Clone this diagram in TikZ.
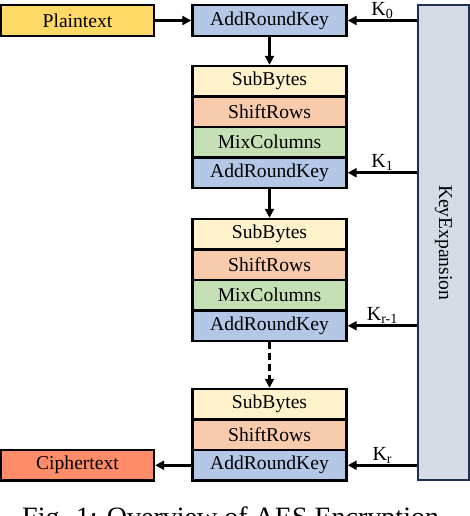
\documentclass[tikz,border=0pt]{standalone}
\usepackage{fontspec}
\setmainfont{Liberation Serif}
\usetikzlibrary{arrows.meta}
\definecolor{cPlain}{HTML}{FFD966}
\definecolor{cCipher}{HTML}{FF8C69}
\definecolor{cSub}{HTML}{FFF2CC}
\definecolor{cShift}{HTML}{F8CBAD}
\definecolor{cMix}{HTML}{C5E0B4}
\definecolor{cArk}{HTML}{B4C7E7}
\definecolor{cKeyFill}{HTML}{D6DCE5}
\definecolor{cKeyLine}{HTML}{1F3057}
\tikzset{
  cell/.style={draw=black, line width=2.4pt, minimum width=154pt, minimum height=30.5pt, inner sep=0pt,
    font=\fontsize{19.6}{21}\selectfont},
  arr/.style={line width=2.6pt, -{Triangle[length=9pt,width=9pt]}},
  klabel/.style={font=\fontsize{20}{22}\selectfont, above, inner sep=0.5pt}
}
\begin{document}
\begin{tikzpicture}[x=1pt,y=-1pt]
\useasboundingbox (0,0) rectangle (470,516);
\clip (0,0) rectangle (470,516);
% top row
\node[cell, fill=cPlain, minimum width=153pt, minimum height=31pt] (plain) at (77.5,20.5) {Plaintext};
\node[cell, fill=cArk, minimum height=31pt] (ark0) at (269.5,20.5) {AddRoundKey};
% block 1
\node[cell, fill=cSub] (sb1) at (269.5,81.25) {SubBytes};
\node[cell, fill=cShift] (sr1) at (269.5,111.75) {ShiftRows};
\node[cell, fill=cMix] (mc1) at (269.5,142.25) {MixColumns};
\node[cell, fill=cArk] (ark1) at (269.5,172.75) {AddRoundKey};
% block 2
\node[cell, fill=cSub] (sb2) at (269.5,234.25) {SubBytes};
\node[cell, fill=cShift] (sr2) at (269.5,264.75) {ShiftRows};
\node[cell, fill=cMix] (mc2) at (269.5,295.25) {MixColumns};
\node[cell, fill=cArk] (ark2) at (269.5,325.75) {AddRoundKey};
% block 3
\node[cell, fill=cSub] (sb3) at (269.5,404.25) {SubBytes};
\node[cell, fill=cShift] (sr3) at (269.5,434.75) {ShiftRows};
\node[cell, fill=cArk] (ark3) at (269.5,465.25) {AddRoundKey};
\node[cell, fill=cCipher, minimum width=153pt] (cipher) at (77.5,465.25) {Ciphertext};
% key expansion
\node[draw=cKeyLine, fill=cKeyFill, line width=2pt, minimum width=51pt, minimum height=475pt, inner sep=0pt] (kx) at (443.5,242.75)
  {\rotatebox{-90}{\fontsize{19.6}{21}\selectfont KeyExpansion}};
% data flow
\draw[arr] (plain.east) -- (ark0.west);
\draw[arr] (ark0.south) -- (sb1.north);
\draw[arr] (ark1.south) -- (sb2.north);
\draw[arr, dashed, dash pattern=on 7pt off 4pt] (ark2.south) -- (sb3.north);
\draw[arr] (ark3.west) -- (cipher.east);
% keys
\draw[arr] (kx.west |- ark0.east) -- node[klabel]{K\textsubscript{0}} (ark0.east);
\draw[arr] (kx.west |- ark1.east) -- node[klabel]{K\textsubscript{1}} (ark1.east);
\draw[arr] (kx.west |- ark2.east) -- node[klabel]{K\textsubscript{r-1}} (ark2.east);
\draw[arr] (kx.west |- ark3.east) -- node[klabel]{K\textsubscript{r}} (ark3.east);
% caption (cut by the page edge, as in the reference)
\node[anchor=base west, inner sep=0pt, font=\fontsize{28}{30}\selectfont] (cap) at (22,526) {Fig. 1: Overview of AES Encryption};
\end{tikzpicture}
\end{document}
